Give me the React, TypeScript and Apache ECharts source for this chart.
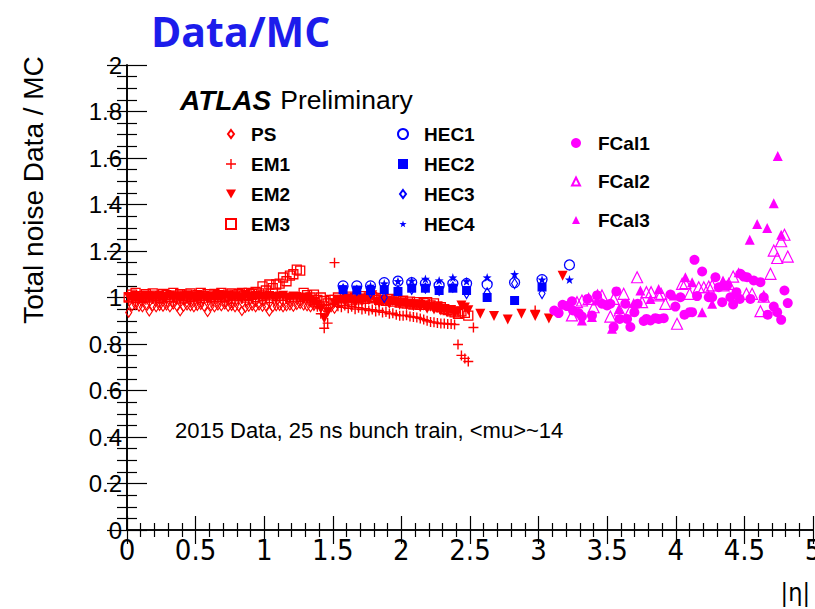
import React, { useEffect, useRef } from "react";
import * as echarts from "echarts";

// ---------- data ----------
const barrelEta = [
  0.0125, 0.0375, 0.0625, 0.0875, 0.1125, 0.1375, 0.1625, 0.1875, 0.2125, 0.2375,
  0.2625, 0.2875, 0.3125, 0.3375, 0.3625, 0.3875, 0.4125, 0.4375, 0.4625, 0.4875,
  0.5125, 0.5375, 0.5625, 0.5875, 0.6125, 0.6375, 0.6625, 0.6875, 0.7125, 0.7375,
  0.7625, 0.7875, 0.8125, 0.8375, 0.8625, 0.8875, 0.9125, 0.9375, 0.9625, 0.9875,
  1.0125, 1.0375, 1.0625, 1.0875, 1.1125, 1.1375, 1.1625, 1.1875, 1.2125, 1.2375,
  1.2625, 1.2875, 1.3125, 1.3375, 1.3625, 1.3875, 1.4125, 1.4375, 1.4625, 1.4875, 1.5125,
];
const endcapEta = [
  1.5125, 1.5375, 1.5625, 1.5875, 1.6125, 1.6375, 1.6625, 1.6875, 1.7125, 1.7375,
  1.7625, 1.7875, 1.8125, 1.8375, 1.8625, 1.8875, 1.9125, 1.9375, 1.9625, 1.9875,
  2.0125, 2.0375, 2.0625, 2.0875, 2.1125, 2.1375, 2.1625, 2.1875, 2.2125, 2.2375,
  2.2625, 2.2875, 2.3125, 2.3375, 2.3625, 2.3875, 2.4125, 2.4375, 2.4625, 2.4875,
];

const psVal = [
  0.935, 0.962, 0.968, 0.960, 0.958, 0.966, 0.940, 0.962, 0.958, 0.964,
  0.960, 0.966, 0.958, 0.970, 0.962, 0.941, 0.960, 0.966, 0.962, 0.958,
  0.964, 0.968, 0.960, 0.938, 0.962, 0.958, 0.966, 0.962, 0.970, 0.960,
  0.964, 0.958, 0.962, 0.942, 0.956, 0.960, 0.964, 0.958, 0.966, 0.960,
  0.962, 0.940, 0.958, 0.962, 0.964, 0.958, 0.962, 0.966, 0.960, 0.968,
  0.972, 0.966, 0.962, 0.958, 0.964, 0.968, 0.960, 0.956, 0.962, 0.958, 0.952,
];

const em1BarrelVal = [
  0.985, 0.992, 0.978, 0.996, 0.984, 0.990, 0.980, 0.994, 0.986, 0.978,
  0.992, 0.984, 0.998, 0.982, 0.990, 0.976, 0.988, 0.994, 0.982, 0.990,
  0.986, 0.978, 0.994, 0.988, 0.980, 0.992, 0.984, 0.996, 0.982, 0.988,
  0.976, 0.990, 0.986, 0.994, 0.980, 0.988, 0.992, 0.982, 0.996, 0.986,
  0.990, 0.978, 0.994, 0.986, 1.000, 0.988, 0.994, 0.982, 0.998, 0.990,
  0.984, 0.996, 0.988, 0.980, 0.972, 0.960, 0.930, 0.868, 0.890,
];
const em1EndcapVal = [
  1.150, 0.962, 0.958, 0.966, 0.954, 0.960, 0.950, 0.956, 0.948, 0.952,
  0.944, 0.948, 0.940, 0.944, 0.936, 0.938, 0.930, 0.932, 0.926, 0.922,
  0.922, 0.924, 0.918, 0.916, 0.914, 0.910, 0.905, 0.900, 0.895, 0.894,
  0.890, 0.888, 0.888, 0.886, 0.886, 0.884, 0.798, 0.751, 0.738, 0.725,
];
const em1OuterEta = [2.525, 2.975];
const em1OuterVal = [0.871, 0.944];

const em2BarrelVal = [
  1.002, 0.996, 1.006, 0.994, 1.000, 1.008, 0.996, 1.004, 0.998, 1.006,
  0.994, 1.002, 1.008, 0.998, 1.004, 0.996, 1.002, 1.006, 0.998, 1.004,
  0.996, 1.008, 1.000, 0.994, 1.004, 1.000, 1.006, 0.998, 1.002, 1.008,
  0.996, 1.004, 1.000, 0.994, 1.006, 1.002, 0.998, 1.006, 1.000, 1.004,
  0.998, 1.006, 1.002, 0.996, 1.004, 1.008, 1.000, 0.996, 1.004, 1.002,
  0.998, 0.994, 1.000, 0.990, 0.982, 0.970, 0.952, 0.910, 0.936,
];
const em2EndcapVal = [
  0.975, 0.985, 0.990, 0.982, 0.994, 0.986, 0.978, 0.990, 0.984, 0.996,
  0.988, 1.010, 0.982, 0.976, 0.990, 0.980, 0.972, 0.984, 0.976, 0.968,
  0.978, 0.966, 0.972, 0.962, 0.970, 0.958, 0.964, 0.952, 0.960, 0.948,
  0.956, 0.944, 0.950, 0.938, 0.946, 0.932, 0.940, 0.966, 0.957, 0.945,
];
const em2OuterEta = [2.575, 2.675, 2.775, 2.875, 2.975, 3.075, 3.175];
const em2OuterVal = [0.930, 0.920, 0.905, 0.930, 0.920, 0.910, 1.094];

const em3BarrelVal = [
  1.000, 1.012, 1.020, 1.006, 0.998, 1.014, 1.004, 1.018, 1.008, 1.000,
  1.016, 1.010, 1.002, 1.020, 1.008, 1.014, 1.000, 1.012, 1.018, 1.004,
  1.010, 1.020, 1.006, 1.014, 1.002, 1.016, 1.010, 1.020, 1.004, 1.012,
  1.018, 1.008, 1.014, 1.020, 1.010, 1.020, 1.016, 1.024, 1.018, 1.048,
  1.030, 1.056, 1.040, 1.056, 1.060, 1.086, 1.070, 1.094, 1.100, 1.120,
  1.116, 1.020, 1.010, 1.000, 1.012, 0.990, 1.000, 0.985, 0.975, 0.990,
];
const em3EndcapVal = [
  0.990, 1.000, 0.984, 0.996, 1.004, 0.988, 0.998, 0.992, 1.006, 0.994,
  1.000, 1.002, 0.996, 0.990, 0.998, 0.986, 0.994, 0.982, 0.990, 0.978,
  0.986, 0.974, 0.982, 0.970, 0.980, 0.968, 0.976, 0.980, 0.966, 0.975,
  0.962, 0.958, 0.950, 0.946, 0.940, 0.936, 0.930, 0.940, 0.934, 0.922,
];

const hecEta = [1.575, 1.675, 1.775, 1.875, 1.975, 2.075, 2.175, 2.275, 2.375, 2.475, 2.625, 2.825, 3.025, 3.225];
const hec1Val = [1.050, 1.050, 1.050, 1.064, 1.070, 1.064, 1.060, 1.052, 1.060, 1.060, 1.056, 1.064, 1.077, 1.140];
const hec2Val = [1.034, 1.032, 1.030, 1.034, 1.026, 1.040, 1.040, 1.030, 1.040, 1.030, 1.000, 0.987, 1.045, null];
const hec3Val = [1.036, 1.030, 1.020, 1.000, 1.030, 1.035, 1.040, 1.030, 1.045, 1.017, 1.020, 1.060, 1.017, null];
const hec4Val = [null, null, 1.050, 1.060, 1.070, 1.072, 1.080, 1.073, 1.086, 1.070, 1.086, 1.100, 1.077, 1.077];

const fcal1Eta = [
  3.114, 3.146, 3.175, 3.207, 3.243, 3.251, 3.292, 3.316, 3.357, 3.389,
  3.426, 3.462, 3.499, 3.523, 3.547, 3.567, 3.591, 3.632, 3.645, 3.669,
  3.698, 3.722, 3.766, 3.786, 3.815, 3.851, 3.875, 3.912, 3.961, 3.997,
  4.034, 4.063, 4.101, 4.119, 4.136, 4.155, 4.192, 4.240, 4.265, 4.289,
  4.313, 4.338, 4.374, 4.398, 4.418, 4.442, 4.466, 4.471, 4.495, 4.520,
  4.544, 4.568, 4.617, 4.641, 4.670, 4.714, 4.739, 4.768, 4.792, 4.816,
];
const fcal1Val = [
  0.944, 0.933, 0.969, 0.963, 0.984, 0.944, 0.933, 0.918, 0.994, 0.923,
  1.009, 0.973, 0.966, 0.973, 0.873, 1.026, 0.908, 0.973, 0.908, 0.873,
  0.937, 0.973, 0.899, 0.908, 0.901, 0.911, 0.908, 0.911, 1.013, 0.961,
  1.001, 0.926, 0.937, 0.937, 1.162, 1.006, 1.112, 1.001, 1.001, 1.087,
  1.044, 0.980, 1.052, 1.001, 0.970, 1.023, 0.994, 1.102, 1.090, 1.087,
  0.994, 1.073, 1.066, 1.001, 0.926, 0.961, 0.937, 0.904, 1.030, 0.976,
];
const fcal2Eta = [
  3.243, 3.280, 3.316, 3.365, 3.401, 3.430, 3.462, 3.523, 3.547, 3.591,
  3.620, 3.669, 3.718, 3.754, 3.786, 3.820, 3.875, 3.893, 3.924, 4.009,
  4.046, 4.070, 4.101, 4.167, 4.204, 4.240, 4.265, 4.349, 4.386, 4.418,
  4.515, 4.556, 4.617, 4.641, 4.690, 4.714, 4.739, 4.768, 4.792, 4.816,
];
const fcal2Val = [
  0.923, 0.980, 0.987, 0.994, 0.958, 1.009, 1.009, 0.918, 0.994, 0.944,
  1.016, 0.944, 1.087, 0.980, 1.023, 1.023, 1.009, 1.016, 0.973, 0.887,
  1.059, 1.062, 1.016, 1.044, 1.044, 1.047, 1.052, 1.052, 1.059, 1.090,
  1.016, 1.016, 0.941, 1.004, 1.102, 1.202, 1.170, 1.242, 1.270, 1.176,
];
const fcal3Eta = [
  3.316, 3.389, 3.426, 3.535, 3.585, 3.693, 3.742, 3.815, 3.875, 3.985, 4.070,
  4.119, 4.192, 4.265, 4.344, 4.458, 4.539, 4.593, 4.666, 4.714, 4.743, 4.768,
];
const fcal3Val = [
  0.901, 0.916, 0.987, 0.866, 0.951, 0.976, 1.030, 0.994, 1.037, 1.009, 1.087,
  1.066, 0.937, 0.973, 1.073, 1.109, 1.248, 1.316, 1.299, 1.405, 1.609, 1.270,
];

const xTicks = [0, 5, 0.5];
const yTicks = [0, 2, 0.2];

// ---------- helpers ----------
const zip = (eta: number[], vals: (number | null)[]) =>
  vals
    .map((v, i) => [eta[i], v])
    .filter((p) => p[1] !== null && p[1] !== undefined);

const RED = "#ff0000";
const BLUE = "#0000ff";
const MAG = "#ff00ff";
const NONE = "rgba(0,0,0,0)";
const FONT = '"Liberation Sans", Arial, Helvetica, sans-serif';
const NARROW = '"Liberation Sans Narrow", "DejaVu Sans Condensed", "Liberation Sans", sans-serif';

const PLUS = "path://M4.3,0H5.7V4.3H10V5.7H5.7V10H4.3V5.7H0V4.3H4.3Z";
const DOWN_TRI = "path://M0,0L10,0L5,9Z";
const UP_TRI = "path://M5,0L10,9L0,9Z";
const STAR = "path://M5,0L6.18,3.5L10,3.6L7,5.9L8.1,9.5L5,7.4L1.9,9.5L3,5.9L0,3.6L3.82,3.5Z";
// legend icons with padding (moveTo points widen the box so the drawn mark is smaller)
const LEG_DIAMOND = "path://M0,0M10,10M5,1L8,5L5,9L2,5Z";
const LEG_STAR = "path://M-2,-2M12,12M5,0L6.18,3.5L10,3.6L7,5.9L8.1,9.5L5,7.4L1.9,9.5L3,5.9L0,3.6L3.82,3.5Z";
const LEG_TRI = "path://M0,0M10,10M5,1L9,9L1,9Z";

function scatter(name: string, data: any[], symbol: string, size: any, fill: string, stroke: string, bw: number) {
  return {
    name,
    type: "scatter",
    data,
    symbol,
    symbolSize: size,
    silent: true,
    itemStyle: { color: fill, borderColor: stroke, borderWidth: bw, opacity: 1 },
    emphasis: { disabled: true },
  };
}

function legendBlock(names: any[], left: number, top: number, gap: number, pad: number) {
  return {
    data: names,
    orient: "vertical",
    left,
    top,
    itemWidth: 10,
    itemHeight: 10,
    itemGap: gap,
    selectedMode: false,
    padding: 0,
    textStyle: {
      fontFamily: FONT,
      fontWeight: "bold",
      fontSize: 19,
      color: "#000",
      lineHeight: 20,
      padding: [0, 0, 0, pad],
    },
  };
}

export default function App() {
  const ref = useRef<HTMLDivElement>(null);
  useEffect(() => {
    if (!ref.current) return;
    const chart = echarts.init(ref.current, undefined, { renderer: "svg" });

    const axisLine = { show: true, lineStyle: { color: "#000", width: 1.6 } };
    const xBase = {
      type: "value",
      min: xTicks[0],
      max: xTicks[1],
      interval: xTicks[2],
      axisLine,
      splitLine: { show: false },
      axisTick: { show: true, inside: true, length: 14, lineStyle: { color: "#000", width: 1.2 } },
      minorTick: { show: true, splitNumber: 5, length: 7, lineStyle: { color: "#000", width: 1.2 } },
    };
    const yBase = {
      type: "value",
      min: yTicks[0],
      max: yTicks[1],
      interval: yTicks[2],
      axisLine,
      splitLine: { show: false },
      axisTick: { show: true, inside: true, length: 20, lineStyle: { color: "#000", width: 1.2 } },
      minorTick: { show: true, splitNumber: 4, length: 10, lineStyle: { color: "#000", width: 1.2 } },
    };

    chart.setOption({
      animation: false,
      backgroundColor: "#fff",
      grid: { left: 127, right: 2, top: 65, bottom: 79, containLabel: false, outerBoundsMode: "none" },
      xAxis: [
        {
          ...xBase,
          position: "bottom",
          axisLabel: { show: true, margin: 5, fontFamily: NARROW, fontSize: 29, color: "#000", hideOverlap: false },
        },
        { ...xBase, position: "top", axisLabel: { show: false } },
      ],
      yAxis: [
        {
          ...yBase,
          position: "left",
          axisLabel: { show: true, margin: 5, fontFamily: FONT, fontSize: 24, color: "#000" },
        },
        { ...yBase, position: "right", axisLabel: { show: false } },
      ],
      legend: [
        legendBlock([{ name: "PS", icon: LEG_DIAMOND }, "EM1", "EM2", "EM3"], 225, 124, 10, 10),
        legendBlock(["HEC1", "HEC2", { name: "HEC3", icon: LEG_DIAMOND }, { name: "HEC4", icon: LEG_STAR }], 397, 124, 10, 11),
        legendBlock(["FCal1", { name: "FCal2", icon: LEG_TRI }, { name: "FCal3", icon: LEG_TRI }], 570, 133, 18.5, 12),
      ],
      series: [
        scatter("PS", zip(barrelEta, psVal), "diamond", [6, 9], NONE, RED, 1.2),
        scatter(
          "EM1",
          [...zip(barrelEta, em1BarrelVal), ...zip(endcapEta, em1EndcapVal), ...zip(em1OuterEta, em1OuterVal)],
          PLUS, 10, RED, RED, 0
        ),
        scatter(
          "EM2",
          [...zip(barrelEta, em2BarrelVal), ...zip(endcapEta, em2EndcapVal), ...zip(em2OuterEta, em2OuterVal)],
          DOWN_TRI, 10, RED, RED, 0
        ),
        scatter("EM3", [...zip(barrelEta, em3BarrelVal), ...zip(endcapEta, em3EndcapVal)], "rect", 9, NONE, RED, 1.3),
        scatter("HEC1", zip(hecEta, hec1Val), "circle", 10, NONE, BLUE, 1.3),
        scatter("HEC2", zip(hecEta, hec2Val), "rect", 9, BLUE, BLUE, 0),
        scatter("HEC3", zip(hecEta, hec3Val), "diamond", [6, 10], NONE, BLUE, 1.2),
        scatter("HEC4", zip(hecEta, hec4Val), STAR, 9, BLUE, BLUE, 0),
        scatter("FCal1", zip(fcal1Eta, fcal1Val), "circle", 10, MAG, MAG, 0),
        scatter("FCal2", zip(fcal2Eta, fcal2Val), UP_TRI, 11, NONE, MAG, 1.2),
        scatter("FCal3", zip(fcal3Eta, fcal3Val), UP_TRI, 10, MAG, MAG, 0),
      ],
      graphic: [
        {
          type: "text",
          left: 151,
          top: 10,
          style: { text: "Data/MC", fontFamily: '"Open Sans", Lato, sans-serif', fontWeight: "bold", fontSize: 41, fill: "#1c1ceb" },
        },
        {
          type: "text",
          x: 33,
          y: 190,
          rotation: Math.PI / 2,
          style: {
            text: "Total noise Data / MC",
            fontFamily: FONT,
            fontSize: 28,
            fill: "#000",
            align: "center",
            verticalAlign: "middle",
          },
        },
        {
          type: "text",
          left: 180,
          top: 86,
          style: {
            text: "{a|ATLAS}{b|Preliminary}",
            rich: {
              a: { fontFamily: FONT, fontWeight: "bold", fontStyle: "italic", fontSize: 28, fill: "#000", padding: [0, 9, 0, 0] },
              b: { fontFamily: FONT, fontSize: 26.5, fill: "#000" },
            },
          },
        },
        {
          type: "text",
          left: 175,
          top: 419,
          style: { text: "2015 Data, 25 ns bunch train, <mu>~14", fontFamily: FONT, fontSize: 22, fill: "#000" },
        },
        {
          type: "text",
          right: 5,
          top: 580,
          style: { text: "|η|", fontFamily: NARROW, fontSize: 25, fill: "#000" },
        },
      ],
    });
    return () => chart.dispose();
  }, []);
  return (
    <div
      ref={ref}
      style={{ position: "fixed", left: 0, top: 0, width: 815, height: 609, background: "#fff" }}
    />
  );
}
